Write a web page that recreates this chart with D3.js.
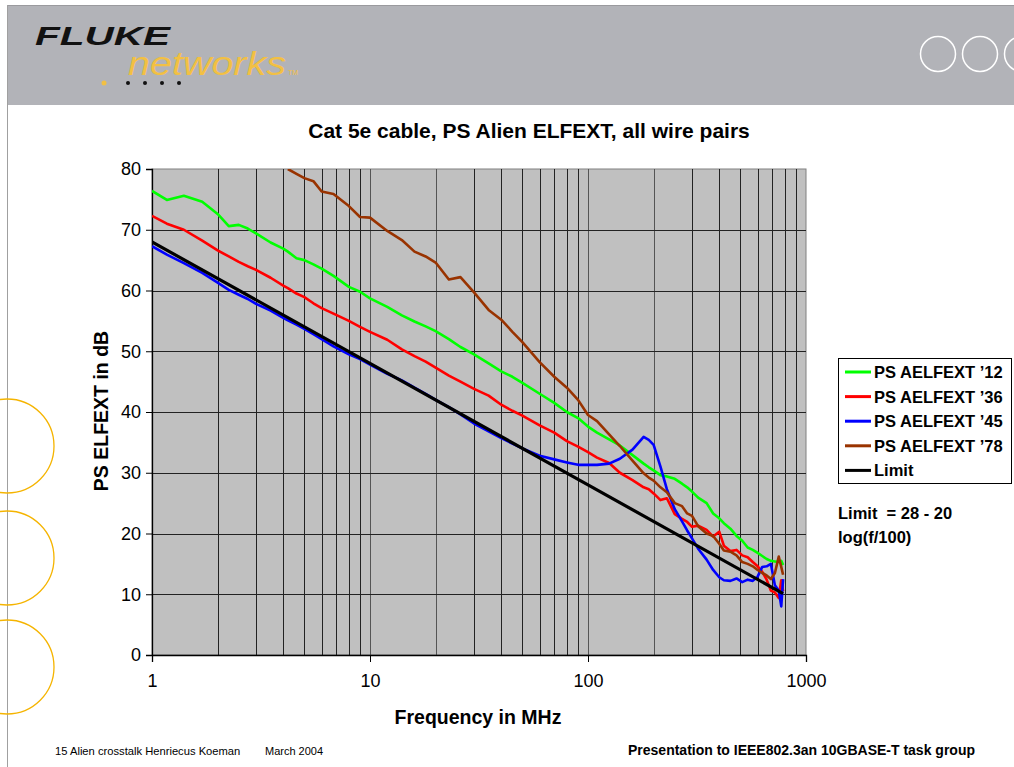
<!DOCTYPE html>
<html>
<head>
<meta charset="utf-8">
<script src="https://cdn.jsdelivr.net/npm/d3@7"></script>
<style>
  body { margin: 0; background: #fff; }
  text { font-family: "Liberation Sans", Arial, sans-serif; }
</style>
</head>
<body>
<div id="slide"></div>
<script>
//----------------------------------------------------------------
// data (frequency in MHz, PS ELFEXT in dB)
//----------------------------------------------------------------
var freqs = [1, 1.17, 1.4, 1.7, 2, 2.25, 2.5, 2.75, 3, 3.5, 4, 4.2, 4.6, 5, 5.5, 6, 6.8, 8, 9, 10,
  12, 14, 16, 18, 20, 23, 26, 30, 35, 40, 45, 50, 60, 70, 80, 90, 100,
  110, 125, 140, 160, 180, 190, 200, 215, 230, 250, 270, 285, 300, 320, 350, 375, 400,
  420, 450, 480, 510, 540, 570, 600, 630, 660, 690, 720, 750, 770, 785];

var pair12 = [76.4, 74.9, 75.6, 74.6, 72.6, 70.6, 70.8, 70.2, 69.4, 67.9, 66.9, 66.4, 65.3, 65.0, 64.3, 63.6, 62.4, 60.6, 59.8, 58.7,
  57.3, 55.9, 54.9, 54.1, 53.3, 52.0, 50.7, 49.5, 48.0, 46.7, 45.8, 44.8, 43.0, 41.5, 40.0, 39.0, 37.6,
  36.6, 35.5, 34.5, 32.9, 31.5, 30.9, 30.4, 29.6, 29.4, 29.0, 28.2, 27.6, 26.9, 25.9, 25.0, 23.3, 22.5,
  21.7, 20.8, 19.6, 18.8, 17.7, 17.3, 16.8, 16.3, 15.8, 15.5, 15.4, 15.3, 15.5, 14.8];

var pair36 = [72.3, 71.0, 70.0, 68.2, 66.6, 65.6, 64.7, 64.0, 63.4, 62.1, 60.8, 60.4, 59.5, 58.9, 57.9, 57.1, 56.2, 55.0, 54.0, 53.2,
  51.9, 50.3, 49.2, 48.3, 47.3, 46.0, 45.0, 43.8, 42.7, 41.2, 40.2, 39.4, 37.8, 36.6, 35.2, 34.3, 33.4,
  32.5, 31.6, 30.0, 28.8, 27.6, 27.3, 26.6, 25.5, 25.8, 23.2, 22.4, 21.9, 21.1, 21.3, 20.6, 19.5, 20.3,
  18.0, 17.1, 17.3, 16.4, 16.1, 15.3, 14.6, 13.7, 12.4, 10.6, 10.3, 9.4, 12.3, 10.5];

var pair45 = [67.3, 65.9, 64.5, 62.9, 61.3, 60.1, 59.3, 58.6, 57.8, 56.7, 55.5, 55.1, 54.4, 53.7, 52.8, 52.0, 50.8, 49.5, 48.7, 47.8,
  46.3, 45.2, 44.0, 43.0, 42.0, 40.8, 39.6, 38.1, 36.8, 35.7, 34.8, 34.0, 32.8, 32.2, 31.7, 31.3, 31.3,
  31.3, 31.5, 32.3, 33.8, 35.9, 35.4, 34.6, 31.0, 27.3, 24.0, 22.0, 20.5, 19.2, 17.5, 15.7, 14.0, 12.8,
  12.3, 12.2, 12.6, 12.0, 12.4, 12.2, 12.9, 14.5, 14.6, 15.0, 11.5, 10.6, 8.0, 12.5];

// pair 78 is above the 80 dB top below ~4 MHz
var pair78 = [null, null, null, null, null, null, null, null, null, null, null, 80.0, 79.2, 78.5, 78.0, 76.3, 75.9, 73.9, 72.1, 72.0,
  69.8, 68.3, 66.4, 65.6, 64.6, 61.8, 62.2, 59.7, 56.8, 55.2, 53.2, 51.5, 48.2, 45.8, 44.0, 42.0, 39.5,
  38.5, 36.3, 34.4, 32.0, 29.9, 29.2, 28.7, 27.6, 26.8, 25.0, 24.5, 23.3, 22.9, 21.2, 20.0, 19.6, 18.3,
  17.2, 17.0, 16.4, 15.3, 15.0, 14.6, 14.0, 13.5, 13.1, 12.5, 13.5, 16.2, 14.5, 13.2];

var limitFreqs = [1, 10, 100, 785];
var limitVals = [68, 48, 28, 10.1];

var seriesNames = ["PS AELFEXT \u201912", "PS AELFEXT \u201936", "PS AELFEXT \u201945", "PS AELFEXT \u201978", "Limit"];
var seriesColors = ["#00ff00", "#ff0000", "#0000ff", "#993300", "#000000"];

var yTicks = [0, 10, 20, 30, 40, 50, 60, 70, 80];
var xTicks = [1, 10, 100, 1000];

//----------------------------------------------------------------
// svg + slide decoration
//----------------------------------------------------------------
var largeur = 1014, hauteur = 767;
var svg = d3.select("#slide")
  .append("svg")
  .attr("width", largeur)
  .attr("height", hauteur);

svg.append("rect")
  .attr("x", 7).attr("y", 5)
  .attr("width", largeur - 7).attr("height", 100)
  .attr("fill", "#b2b3b8");
svg.append("line")
  .attr("x1", 7).attr("x2", largeur).attr("y1", 5.5).attr("y2", 5.5)
  .attr("stroke", "#9a9a9e");
svg.append("line")
  .attr("x1", 7.5).attr("x2", 7.5).attr("y1", 5).attr("y2", hauteur)
  .attr("stroke", "#a0a0a0");

// logo
svg.append("text")
  .attr("x", 35).attr("y", 45)
  .attr("textLength", 135).attr("lengthAdjust", "spacingAndGlyphs")
  .attr("font-size", 25).attr("font-weight", "bold").attr("font-style", "italic")
  .attr("fill", "#111")
  .text("FLUKE");
svg.append("text")
  .attr("x", 128).attr("y", 75)
  .attr("textLength", 158).attr("lengthAdjust", "spacingAndGlyphs")
  .attr("font-size", 34).attr("font-style", "italic")
  .attr("fill", "#f2c043")
  .text("networks");
svg.append("text")
  .attr("x", 288).attr("y", 75)
  .attr("font-size", 7).attr("fill", "#f2c043")
  .text("TM");
svg.append("circle").attr("cx", 104).attr("cy", 83).attr("r", 2.5).attr("fill", "#f2c043");
[128, 145, 162, 179].forEach(function(cx) {
  svg.append("circle").attr("cx", cx).attr("cy", 83).attr("r", 2).attr("fill", "#111");
});

// white rings top right
[938, 980, 1022].forEach(function(cx) {
  svg.append("circle").attr("cx", cx).attr("cy", 54).attr("r", 17.5)
    .attr("fill", "none").attr("stroke", "#fff").attr("stroke-width", 1.5);
});

// yellow half rings on the left
[446, 558, 667].forEach(function(cy) {
  svg.append("circle").attr("cx", 7).attr("cy", cy).attr("r", 47)
    .attr("fill", "none").attr("stroke", "#f5b400").attr("stroke-width", 1.3);
});

//----------------------------------------------------------------
// chart
//----------------------------------------------------------------
var x = d3.scaleLog().domain([1, 1000]).range([152, 806]);
var y = d3.scaleLinear().domain([0, 80]).range([655, 169]);

svg.append("text")
  .attr("x", 529).attr("y", 138)
  .attr("text-anchor", "middle")
  .attr("font-size", 21).attr("font-weight", "bold")
  .text("Cat 5e cable, PS Alien ELFEXT, all wire pairs");

svg.append("rect")
  .attr("x", x(1)).attr("y", y(80))
  .attr("width", x(1000) - x(1)).attr("height", y(0) - y(80))
  .attr("fill", "#c0c0c0").attr("stroke", "#808080");

var minorFreqs = [];
[1, 10, 100].forEach(function(d) {
  for (var k = 2; k <= 9; k++) minorFreqs.push(d * k);
});
minorFreqs.push(10, 100);

svg.append("g").selectAll("line")
  .data(minorFreqs)
  .enter().append("line")
  .attr("x1", function(d) { return Math.round(x(d)) + 0.5; })
  .attr("x2", function(d) { return Math.round(x(d)) + 0.5; })
  .attr("y1", y(80)).attr("y2", y(0))
  .attr("stroke", function(d) { return (d == 10 || d == 100 || d == 20 || d == 200) ? "#555" : "#222"; });

svg.append("g").selectAll("line")
  .data(yTicks.slice(1, 8))
  .enter().append("line")
  .attr("x1", x(1)).attr("x2", x(1000))
  .attr("y1", function(d) { return Math.round(y(d)) + 0.5; })
  .attr("y2", function(d) { return Math.round(y(d)) + 0.5; })
  .attr("stroke", "#222");

// axes
var yAxis = svg.append("g")
  .attr("transform", "translate(" + x(1) + ",0)")
  .call(d3.axisLeft(y).tickValues(yTicks).tickSize(6).tickPadding(5).tickFormat(d3.format("d")));
var xAxis = svg.append("g")
  .attr("transform", "translate(0," + y(0) + ")")
  .call(d3.axisBottom(x).tickValues(xTicks).tickSize(7).tickPadding(12).tickFormat(d3.format("d")));
[yAxis, xAxis].forEach(function(a) {
  a.select(".domain").attr("stroke", "#000").attr("stroke-width", 1.3);
  a.selectAll(".tick line").attr("stroke", "#000");
  a.selectAll(".tick text")
    .attr("font-family", "Liberation Sans, Arial, sans-serif")
    .attr("font-size", 18).attr("fill", "#000");
});

svg.append("text")
  .attr("transform", "translate(108,411) rotate(-90)")
  .attr("text-anchor", "middle")
  .attr("font-size", 19.5).attr("font-weight", "bold")
  .text("PS ELFEXT in dB");
svg.append("text")
  .attr("x", 478).attr("y", 724)
  .attr("text-anchor", "middle")
  .attr("font-size", 19.5).attr("font-weight", "bold")
  .text("Frequency in MHz");

// lines
svg.append("clipPath").attr("id", "zone")
  .append("rect")
  .attr("x", x(1)).attr("y", y(80))
  .attr("width", x(1000) - x(1)).attr("height", y(0) - y(80));

var ligne = d3.line()
  .defined(function(d) { return d[1] !== null; })
  .x(function(d) { return x(d[0]); })
  .y(function(d) { return y(d[1]); });

var series = [pair12, pair36, pair45, pair78].map(function(vals) {
  return freqs.map(function(f, i) { return [f, vals[i]]; });
});
series.push(limitFreqs.map(function(f, i) { return [f, limitVals[i]]; }));

svg.append("g").attr("clip-path", "url(#zone)")
  .selectAll("path")
  .data(series)
  .enter().append("path")
  .attr("fill", "none")
  .attr("stroke", function(d, i) { return seriesColors[i]; })
  .attr("stroke-width", function(d, i) { return i == 4 ? 3.2 : 2.6; })
  .attr("stroke-linejoin", "round")
  .attr("d", ligne);

//----------------------------------------------------------------
// legend + notes
//----------------------------------------------------------------
var legende = svg.append("g");
legende.append("rect")
  .attr("x", 838.5).attr("y", 358.5).attr("width", 173).attr("height", 125)
  .attr("fill", "#fff").attr("stroke", "#000");
var items = legende.selectAll(".item")
  .data(seriesNames)
  .enter().append("g")
  .attr("transform", function(d, i) { return "translate(0," + (372 + i * 24.6) + ")"; });
items.append("line")
  .attr("x1", 845).attr("x2", 871)
  .attr("stroke", function(d, i) { return seriesColors[i]; })
  .attr("stroke-width", 3);
items.append("text")
  .attr("x", 874).attr("y", 6)
  .attr("font-size", 16.5).attr("font-weight", "bold")
  .text(function(d) { return d; });

svg.append("text")
  .attr("x", 838).attr("y", 519)
  .attr("font-size", 16.5).attr("font-weight", "bold")
  .attr("xml:space", "preserve")
  .text("Limit  = 28 - 20");
svg.append("text")
  .attr("x", 838).attr("y", 543)
  .attr("font-size", 16.5).attr("font-weight", "bold")
  .text("log(f/100)");

// footer
svg.append("text")
  .attr("x", 55).attr("y", 755)
  .attr("font-size", 11.2)
  .text("15 Alien crosstalk Henriecus Koeman");
svg.append("text")
  .attr("x", 265).attr("y", 755)
  .attr("font-size", 11)
  .text("March 2004");
svg.append("text")
  .attr("x", 975).attr("y", 755)
  .attr("text-anchor", "end")
  .attr("font-size", 14).attr("font-weight", "bold")
  .text("Presentation to IEEE802.3an 10GBASE-T task group");
</script>
</body>
</html>
